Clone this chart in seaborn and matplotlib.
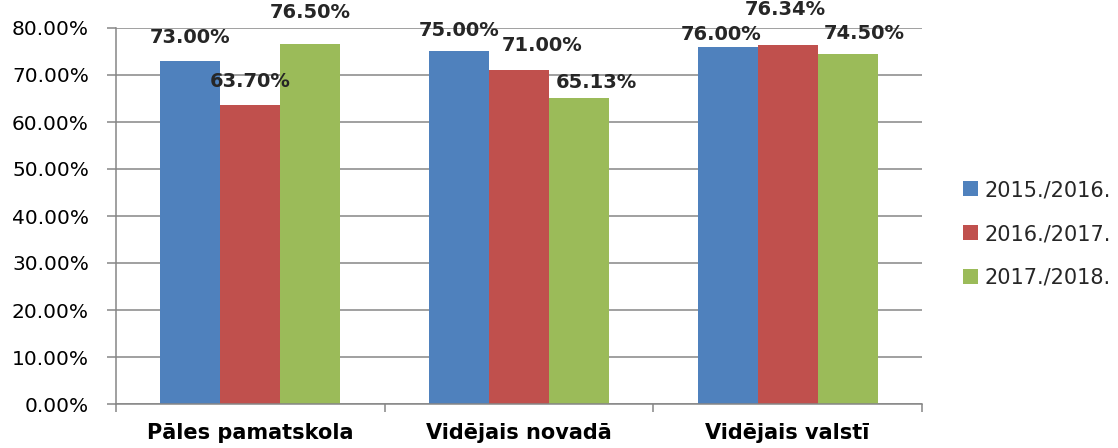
import matplotlib
matplotlib.use("Agg")
import matplotlib.pyplot as plt
from matplotlib.ticker import PercentFormatter, FixedLocator
import seaborn as sns
import pandas as pd

# data
categories = ["Pāles pamatskola", "Vidējais novadā", "Vidējais valstī"]
years = ["2015./2016.", "2016./2017.", "2017./2018."]
values_2015 = [73.00, 75.00, 76.00]
values_2016 = [63.70, 71.00, 76.34]
values_2017 = [76.50, 65.13, 74.50]

colors = ["#4F81BD", "#C0504D", "#9BBB59"]
grid_color = "#868686"

# manual label nudges (pixels) the way they sit in the original: (dx, gap above bar)
label_nudge = {
    0: [(0, 18), (0, 16), (-7, 7)],
    1: [(0, 18), (23, 19), (-2, 30)],
    2: [(0, 26), (17, 10), (17, 15)],
}

rows = []
for year, vals in zip(years, [values_2015, values_2016, values_2017]):
    for cat, v in zip(categories, vals):
        rows.append({"category": cat, "year": year, "value": v})
df = pd.DataFrame(rows)

sns.set_style("white")
plt.rcParams['font.family'] = ['DejaVu Sans']

fig = plt.figure(figsize=(11.18, 4.48), dpi=100)
ax = fig.add_axes([116 / 1118, 1 - 404 / 448, (922 - 116) / 1118, (404 - 28) / 448])

sns.barplot(data=df, x="category", y="value", hue="year", palette=colors,
            width=0.67, ax=ax, legend=True, saturation=1, edgecolor="none",
            errorbar=None)

ax.set_ylim(0, 80)
ax.set_xlim(-0.5, 2.5)
ax.yaxis.set_major_locator(FixedLocator([i * 10 for i in range(9)]))
ax.yaxis.set_major_formatter(PercentFormatter(xmax=100, decimals=2))
ax.set_xlabel("")
ax.set_ylabel("")

# gridlines and axes in Excel grey
ax.grid(axis="y", color=grid_color, linewidth=1.1)
ax.set_axisbelow(True)
for side in ["top", "right"]:
    ax.spines[side].set_visible(False)
for side in ["left", "bottom"]:
    ax.spines[side].set_color(grid_color)
    ax.spines[side].set_linewidth(1.1)

ax.tick_params(axis="y", which="major", direction="out", length=6.5, width=1.1,
               color=grid_color, pad=13, labelsize=14.5, labelcolor="black", left=True)
ax.set_xticks([0, 1, 2])
ax.set_xticklabels(categories, fontweight="bold", fontsize=15)
ax.set_xticks([-0.5, 0.5, 1.5, 2.5], minor=True)
ax.tick_params(axis="x", which="major", length=0, pad=14, labelcolor="black")
ax.tick_params(axis="x", which="minor", direction="out", length=5.8, width=1.1,
               color=grid_color, bottom=True)

# value labels above each bar
for j, container in enumerate(ax.containers):
    for i, bar in enumerate(container):
        dx, gap = label_nudge[j][i]
        h = bar.get_height()
        ax.annotate("%.2f%%" % h, (bar.get_x() + bar.get_width() / 2, h),
                    xytext=(dx, gap), textcoords="offset pixels",
                    ha="center", va="baseline", fontsize=14, fontweight="bold",
                    annotation_clip=False)

handles, labels = ax.get_legend_handles_labels()
ax.legend_.remove()
fig.legend(handles, labels, loc="center left", bbox_to_anchor=(963 / 1118, 1 - 234 / 448),
           frameon=False, fontsize=15, borderaxespad=0, borderpad=0,
           handlelength=0.72, handleheight=0.72, handletextpad=0.3, labelspacing=1.15)

fig.savefig("out.png", dpi=100)
